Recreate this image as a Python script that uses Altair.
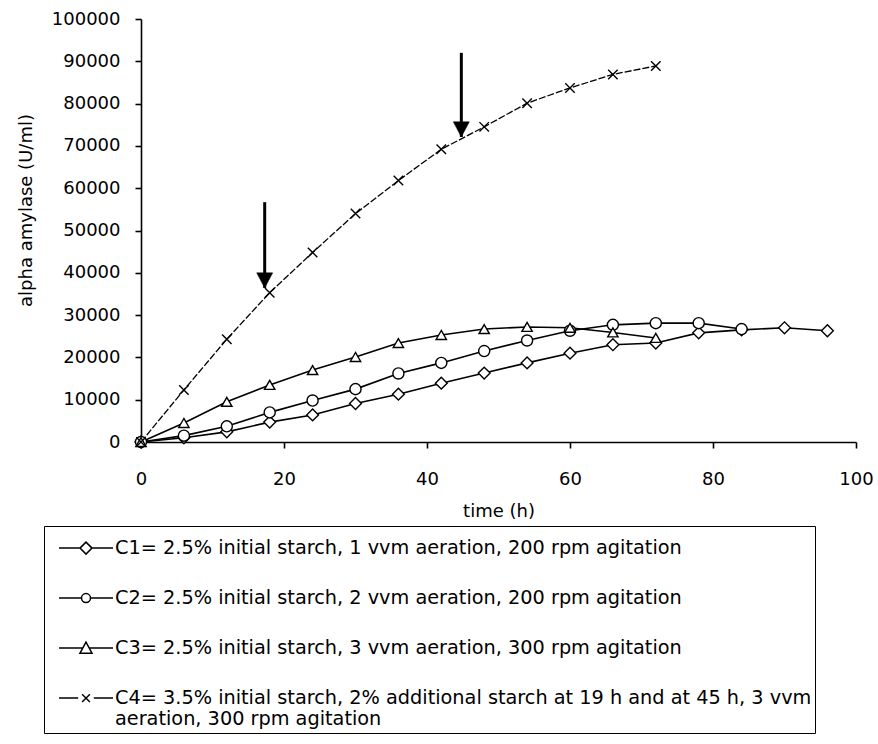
import altair as alt
import pandas as pd

# ---------------- data ----------------
TIME = [0, 6, 12, 18, 24, 30, 36, 42, 48, 54, 60, 66, 72, 78, 84, 90, 96]
C1 = [0, 1000, 2400, 4700, 6400, 9100, 11300, 13900, 16300, 18700, 21000,
      23000, 23400, 25800, 26500, 27000, 26300]
C2 = [0, 1500, 3700, 7000, 9800, 12500, 16200, 18700, 21500, 24000, 26300,
      27700, 28100, 28100, 26700]
C3 = [0, 4500, 9500, 13500, 17000, 20100, 23400, 25300, 26700, 27200, 27000,
      25900, 24600]
C4 = [0, 12300, 24300, 35300, 44800, 54000, 61800, 69200, 74500, 80100, 83700,
      86900, 88900]

SERIES = [
    "C1= 2.5% initial starch, 1 vvm aeration, 200 rpm agitation",
    "C2= 2.5% initial starch, 2 vvm aeration, 200 rpm agitation",
    "C3= 2.5% initial starch, 3 vvm aeration, 300 rpm agitation",
    "C4= 3.5% initial starch, 2% additional starch at 19 h and at 45 h, 3 vvm|aeration, 300 rpm agitation",
]
VALUES = [C1, C2, C3, C4]

MARKERS = ["diamond", "circle", "triangle-up", "M-1,-1L1,1M-1,1L1,-1"]
MARKER_SIZES = [140, 90, 150, 64]

# legend glyphs "—◇—" etc. (unit = 6 px, drawn 1.575 units below the entry anchor)
LEGEND_SYMBOLS = [
    "M-4.5,1.575L-1,1.575M1,1.575L4.5,1.575M-1,1.575L0,0.575L1,1.575L0,2.575Z",
    "M-4.5,1.575L-0.75,1.575M0.75,1.575L4.5,1.575M0.75,1.575A0.75,0.75 0 1,1 -0.75,1.575A0.75,0.75 0 1,1 0.75,1.575Z",
    "M-4.5,1.575L-0.54,1.575M0.54,1.575L4.5,1.575M-1,2.425L0,0.575L1,2.425Z",
    "M-4.5,1.575L-1.3,1.575M1.3,1.575L4.5,1.575M-0.65,0.925L0.65,2.225M-0.65,2.225L0.65,0.925",
]

ARROW_TIME = [17.3, 44.8]
ARROW_TOP = [56700, 92000]
ARROW_TIP = [36400, 72100]

X_TICKS = [0, 20, 40, 60, 80, 100]
Y_TICKS = [0, 10000, 20000, 30000, 40000, 50000, 60000, 70000, 80000, 90000, 100000]

# ---------------- tables ----------------
rows = []
for name, vals in zip(SERIES, VALUES):
    for t, v in zip(TIME, vals):
        rows.append({"series": name, "time": t, "value": v})
df = pd.DataFrame(rows)

arrows = pd.DataFrame({"time": ARROW_TIME, "value": ARROW_TOP, "value2": ARROW_TIP})

FONT = "DejaVu Sans"

x_enc = alt.X(
    "time:Q",
    scale=alt.Scale(domain=[0, 100], nice=False),
    axis=alt.Axis(values=X_TICKS, title="time (h)", labelFlush=False, tickSize=6,
                  labelPadding=22, titleX=357.5, titleY=69, titleBaseline="middle"),
)
y_enc = alt.Y(
    "value:Q",
    scale=alt.Scale(domain=[0, 100000], nice=False),
    axis=alt.Axis(values=Y_TICKS, format="d", title="alpha amylase (U/ml)", tickSize=6,
                  labelPadding=15, titleX=-115, titleY=191, titleAngle=270,
                  titleBaseline="middle", titleAlign="center"),
)

base = alt.Chart(df)

lines_main = base.transform_filter(
    alt.FieldOneOfPredicate(field="series", oneOf=SERIES[:3])
).mark_line(color="black", strokeWidth=1.6).encode(x=x_enc, y=y_enc, detail="series:N")

line_c4 = base.transform_filter(
    alt.FieldEqualPredicate(field="series", equal=SERIES[3])
).mark_line(color="black", strokeWidth=1.3, strokeDash=[7, 2]).encode(x=x_enc, y=y_enc)

points = base.mark_point(filled=True, fill="white", stroke="black", strokeWidth=1.4, opacity=1).encode(
    x=x_enc, y=y_enc,
    shape=alt.Shape("series:N", scale=alt.Scale(domain=SERIES, range=MARKERS), legend=None),
    size=alt.Size("series:N", scale=alt.Scale(domain=SERIES, range=MARKER_SIZES), legend=None),
)

# legend-only layer: no rows drawn, entries come from the explicit scale domain
legend_layer = base.transform_filter("datum.time < 0").mark_point(
    filled=False, color="black", strokeWidth=1.5, opacity=1
).encode(
    x=x_enc, y=y_enc,
    shape=alt.Shape(
        "series:N",
        scale=alt.Scale(domain=SERIES, range=LEGEND_SYMBOLS),
        legend=alt.Legend(
            title=None, orient="none", legendX=-97, legendY=507, direction="vertical",
            strokeColor="black", fillColor="white", padding=3, rowPadding=21,
            labelFont=FONT, labelFontSize=19.3, labelColor="black", labelLimit=1000,
            labelBaseline="top",
            labelExpr="split(datum.label, '|')", labelOffset=19.35, symbolOffset=29.35,
            symbolSize=144, symbolStrokeWidth=1.5, symbolStrokeColor="black",
        ),
    ),
)

arrow_rule = alt.Chart(arrows).mark_rule(color="black", strokeWidth=3).encode(
    x=x_enc, y=y_enc, y2="value2:Q"
)
arrow_head = alt.Chart(arrows).mark_point(
    shape="M0,0L1,-1.9L-1,-1.9Z", size=256, filled=True, fill="black", stroke="black",
    strokeWidth=0.5, opacity=1,
).encode(x=x_enc, y=alt.Y("value2:Q"))

chart = alt.layer(
    lines_main, line_c4, points, legend_layer, arrow_rule, arrow_head
).resolve_scale(
    shape="independent", size="independent"
).properties(
    width=715, height=423,
    padding={"left": 141, "top": 19, "right": 22, "bottom": 302},
    autosize=alt.AutoSizeParams(type="none"),
    background="white",
).configure_view(stroke=None).configure_axis(
    labelFont=FONT, labelFontSize=18, labelColor="black",
    titleFont=FONT, titleFontSize=18, titleFontWeight="normal", titleColor="black",
    domainColor="black", domainWidth=1.6, tickColor="black", tickWidth=1.6, grid=False,
)

chart.save("out.html", embed_options={"renderer": "svg", "actions": False})
